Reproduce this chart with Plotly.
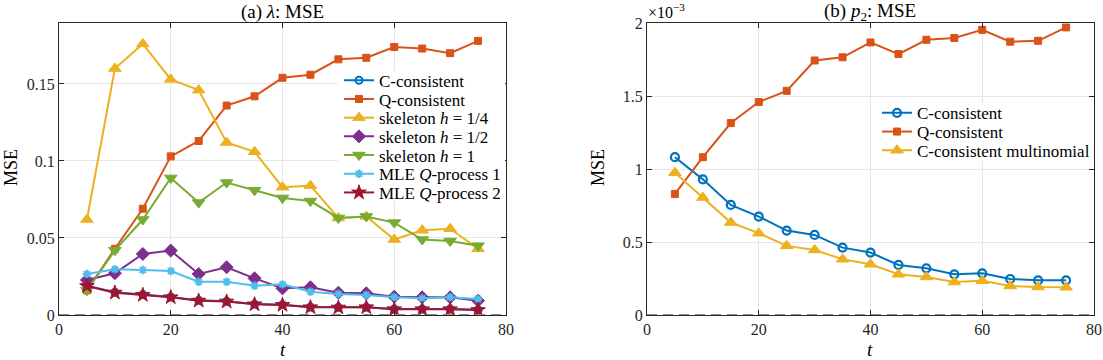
import plotly.graph_objects as go
from plotly.subplots import make_subplots

# time steps
t = [5, 10, 15, 20, 25, 30, 35, 40, 45, 50, 55, 60, 65, 70, 75]

# (a) lambda: MSE
lam_c_consistent = [0.0190, 0.0148, 0.0133, 0.0117, 0.0095, 0.0089, 0.0071, 0.0067, 0.0052, 0.0050, 0.0051, 0.0039, 0.0039, 0.0039, 0.0034]
lam_q_consistent = [0.016, 0.043, 0.069, 0.103, 0.113, 0.136, 0.142, 0.154, 0.156, 0.166, 0.167, 0.174, 0.173, 0.170, 0.178]
lam_skel_quarter = [0.062, 0.160, 0.176, 0.153, 0.146, 0.112, 0.106, 0.083, 0.084, 0.063, 0.064, 0.049, 0.055, 0.056, 0.043]
lam_skel_half = [0.0227, 0.0271, 0.0396, 0.0418, 0.0266, 0.031, 0.0238, 0.0173, 0.018, 0.0145, 0.0141, 0.0119, 0.0115, 0.0115, 0.0093]
lam_skel_one = [0.016, 0.042, 0.062, 0.089, 0.073, 0.086, 0.081, 0.076, 0.074, 0.063, 0.064, 0.060, 0.049, 0.048, 0.045]
lam_mle_q1 = [0.0266, 0.0297, 0.0292, 0.0286, 0.0216, 0.0216, 0.019, 0.0199, 0.0151, 0.0136, 0.013, 0.0115, 0.0108, 0.0115, 0.0104]
lam_mle_q2 = [0.0188, 0.0145, 0.013, 0.0115, 0.0093, 0.0087, 0.0069, 0.0065, 0.005, 0.0048, 0.005, 0.0037, 0.0037, 0.0037, 0.0032]

# (b) p2: MSE  (values in units of 1e-3)
p2_c_consistent = [1.082, 0.930, 0.755, 0.675, 0.579, 0.549, 0.462, 0.428, 0.343, 0.320, 0.279, 0.286, 0.247, 0.238, 0.238]
p2_q_consistent = [0.830, 1.082, 1.316, 1.460, 1.537, 1.745, 1.767, 1.869, 1.789, 1.887, 1.899, 1.955, 1.874, 1.880, 1.972]
p2_c_multinomial = [0.975, 0.805, 0.634, 0.561, 0.474, 0.446, 0.382, 0.348, 0.279, 0.261, 0.226, 0.235, 0.199, 0.192, 0.190]

x_ticks = [0, 20, 40, 60, 80]
lam_ticks = [0, 0.05, 0.1, 0.15]
lam_ticktext = ["0", "0.05", "0.1", "0.15"]
p2_ticks = [0, 0.5, 1, 1.5, 2]
p2_ticktext = ["0", "0.5", "1", "1.5", "2"]

BLUE = "#0072BD"
ORANGE = "#D95319"
YELLOW = "#EDB120"
PURPLE = "#7E2F8E"
GREEN = "#77AC30"
CYAN = "#4DBEEE"
DRED = "#A2142F"

FONT = "Liberation Serif"
AXC = "#262626"

W, H = 1103, 360
def fx(px):
    return px / W
def fy(py):
    return 1 - py / H

fig = make_subplots(rows=1, cols=2)

# every entry gets its own legend so the row spacing can be as tight as in the reference
legend_pos = {}
LEFT_ROW0, RIGHT_ROW0, ROW = 80.7, 113.3, 18.7

def series(x, y, name, color, symbol, size, col, mline=1):
    n = len(fig.data) + 1
    lname = "legend" if n == 1 else "legend%d" % n
    if col == 1:
        legend_pos[lname] = (339, LEFT_ROW0 + ROW * (n - 1))
    else:
        legend_pos[lname] = (877, RIGHT_ROW0 + ROW * (n - 8))
    fig.add_trace(go.Scatter(
        x=x, y=y, name=name, mode="lines+markers", showlegend=True,
        line=dict(color=color, width=2),
        marker=dict(symbol=symbol, size=size, color=color,
                    line=dict(color=color, width=mline)),
        legend=lname,
    ), row=1, col=col)

series(t, lam_c_consistent, "C-consistent", BLUE, "circle-open", 7, 1, 2)
series(t, lam_q_consistent, "Q-consistent", ORANGE, "square", 7, 1)
series(t, lam_skel_quarter, "skeleton <i>h</i> = 1/4", YELLOW, "triangle-up", 11, 1)
series(t, lam_skel_half, "skeleton <i>h</i> = 1/2", PURPLE, "diamond", 10, 1)
series(t, lam_skel_one, "skeleton <i>h</i> = 1", GREEN, "triangle-down", 11, 1)
series(t, lam_mle_q1, "MLE <i>Q</i>-process 1", CYAN, "asterisk-open", 7, 1, 2)
series(t, lam_mle_q2, "MLE <i>Q</i>-process 2", DRED, "star", 11, 1)

series(t, p2_c_consistent, "C-consistent", BLUE, "circle-open", 8, 2, 2.2)
series(t, p2_q_consistent, "Q-consistent", ORANGE, "square", 7, 2)
series(t, p2_c_multinomial, "C-consistent multinomial", YELLOW, "triangle-up", 11, 2)

# dashed zero reference lines
for c in (1, 2):
    fig.add_hline(y=0, line=dict(color="#8c8c8c", width=2, dash="10px,6px"), row=1, col=c)

# white legend boxes (hide grid and lines behind the legends)
for x0, x1, y0, y1 in [(338, 505, 71, 201), (876, 1093, 103, 161)]:
    fig.add_shape(type="rect", xref="paper", yref="paper",
                  x0=fx(x0), x1=fx(x1), y0=fy(y1), y1=fy(y0),
                  fillcolor="white", line_width=0, layer="above")

axis_common = dict(
    showline=True, linecolor=AXC, linewidth=1, mirror="ticks",
    ticks="inside", ticklen=5, tickcolor=AXC, automargin=False,
    showgrid=True, gridcolor="#e6e6e6", gridwidth=1, zeroline=False,
    tickfont=dict(family=FONT, size=16, color=AXC),
)

fig.update_xaxes(axis_common)
fig.update_yaxes(axis_common)
fig.update_xaxes(range=[0, 80], tickvals=x_ticks, domain=[fx(59), fx(506)], row=1, col=1)
fig.update_xaxes(range=[0, 80], tickvals=x_ticks, domain=[fx(647), fx(1094)], row=1, col=2)
fig.update_yaxes(range=[0, 0.1894], tickvals=lam_ticks, ticktext=lam_ticktext,
                 domain=[fy(315), fy(23.3)], row=1, col=1)
fig.update_yaxes(range=[0, 2], tickvals=p2_ticks, ticktext=p2_ticktext,
                 domain=[fy(315), fy(23.3)], row=1, col=2)

ann = []
def note(text, x, y, size=16, angle=0, xanchor="center"):
    ann.append(dict(text=text, x=fx(x), y=fy(y), xref="paper", yref="paper", showarrow=False,
                    xanchor=xanchor, yanchor="middle", textangle=angle,
                    font=dict(family=FONT, size=size, color="black")))

note("(a) <i>λ</i>: MSE", 282.5, 12, 19)
note("(b) <i>p</i><sub>2</sub>: MSE", 870.5, 12, 19)
note("MSE", 11, 168, 18, -90)
note("MSE", 598, 168, 18, -90)
note("<i>t</i>", 282.5, 349, 19)
note("<i>t</i>", 870.5, 349, 19)
note("×10<sup>−3</sup>", 646, 11, 16, xanchor="left")

legends = {}
for lname, (px, py) in legend_pos.items():
    legends[lname] = dict(
        bgcolor="rgba(0,0,0,0)", borderwidth=0, xanchor="left", yanchor="middle",
        x=fx(px), y=fy(py), itemwidth=30,
        font=dict(family=FONT, size=17, color="black"),
    )

fig.update_layout(
    width=W, height=H,
    margin=dict(l=0, r=0, t=0, b=0),
    paper_bgcolor="white", plot_bgcolor="white",
    showlegend=True,
    annotations=ann,
    **legends,
)

# drop the default page margin so the figure sits at the window's corner
fig.write_html("out.html", config={"displayModeBar": False},
               post_script="document.body.style.margin = '0';")
